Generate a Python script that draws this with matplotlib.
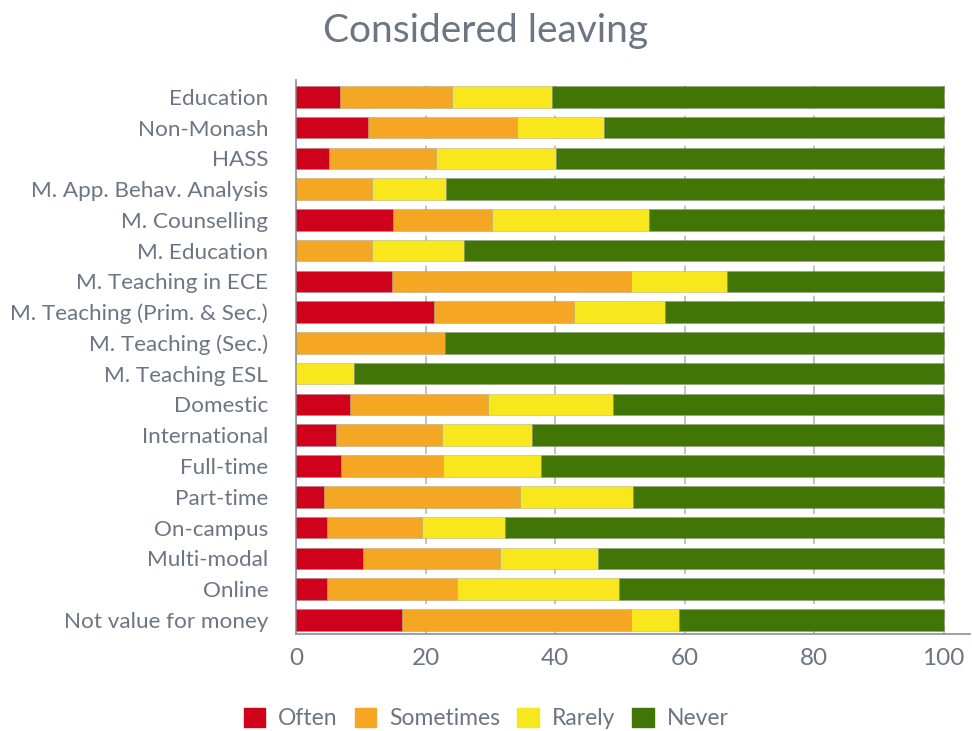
import numpy as np
import matplotlib.pyplot as plt
from matplotlib.patches import Patch

categories = ["Education", "Non-Monash", "HASS", "M. App. Behav. Analysis",
              "M. Counselling", "M. Education", "M. Teaching in ECE",
              "M. Teaching (Prim. & Sec.)", "M. Teaching (Sec.)", "M. Teaching ESL",
              "Domestic", "International", "Full-time", "Part-time", "On-campus",
              "Multi-modal", "Online", "Not value for money"]

often = [6.8, 11.1, 5.1, 0.0, 15.0, 0.0, 14.8, 21.3, 0.0, 0.0,
         8.4, 6.2, 7.0, 4.3, 4.8, 10.3, 4.8, 16.4]
sometimes = [17.3, 23.0, 16.5, 11.7, 15.2, 11.7, 36.9, 21.6, 23.0, 0.0,
             21.2, 16.3, 15.7, 30.3, 14.6, 21.2, 20.1, 35.3]
rarely = [15.5, 13.4, 18.5, 11.5, 24.3, 14.3, 14.9, 14.0, 0.0, 8.9,
          19.3, 14.0, 15.2, 17.4, 12.8, 15.2, 24.9, 7.4]
never = [100 - o - s - r for o, s, r in zip(often, sometimes, rarely)]

series = [("Often", often, "#d0021b"),
          ("Sometimes", sometimes, "#f5a623"),
          ("Rarely", rarely, "#f8e71c"),
          ("Never", never, "#417505")]

txt = "#6b7682"
plt.rcParams['font.family'] = ['Lato', 'DejaVu Sans']

fig = plt.figure(figsize=(9.72, 7.31), dpi=100)
ax = fig.add_axes([0.3045, 0.1327, 0.693, 0.758])

y = np.arange(len(categories))
left = np.zeros(len(categories))
for name, vals, col in series:
    vals = np.array(vals)
    ax.barh(y, vals, left=left, height=0.7, color=col,
            edgecolor=(0.5, 0.5, 0.5, 0.35), linewidth=0.6, label=name, zorder=3)
    left += vals

ax.set_xlim(0, 104)
ax.set_ylim(17.46, -0.55)
ax.set_yticks(y)
ax.set_yticklabels(categories, fontsize=16.2, color=txt)
ax.set_xticks([0, 20, 40, 60, 80, 100])
ax.tick_params(axis='x', labelsize=17.5, colors=txt, length=0, pad=10)
ax.tick_params(axis='y', length=0, pad=20)

ax.grid(axis='x', color="#b4b8bd", linestyle=(0, (5, 4)), linewidth=1.2, zorder=0)
for s in ["top", "right"]:
    ax.spines[s].set_visible(False)
for s in ["left", "bottom"]:
    ax.spines[s].set_color("#8a9098")
    ax.spines[s].set_linewidth(1.2)

fig.text(0.5, 0.958, "Considered leaving", ha="center", va="center",
         fontsize=28, color=txt)

handles = [Patch(facecolor=c, edgecolor=c, label=n) for n, _, c in series]
fig.legend(handles=handles, loc="center", bbox_to_anchor=(0.5, 0.017),
           ncol=4, frameon=False, fontsize=16.5, labelcolor=txt,
           handlelength=0.95, handleheight=0.95, columnspacing=0.75, handletextpad=0.55)

fig.savefig("out.png", dpi=100)
